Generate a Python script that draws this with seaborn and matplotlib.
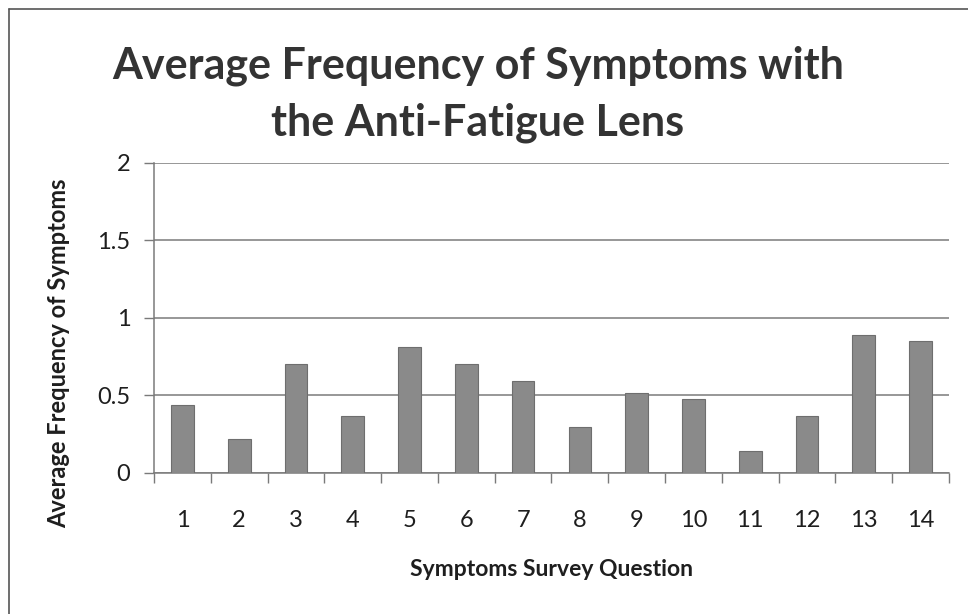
import matplotlib
matplotlib.use("Agg")
import matplotlib.pyplot as plt
from matplotlib.lines import Line2D
import numpy as np
import pandas as pd
import seaborn as sns

# Values
questions = [str(i) for i in range(1, 15)]
avg_frequency = [0.44, 0.215, 0.70, 0.366, 0.813, 0.70, 0.589,
                 0.292, 0.516, 0.477, 0.142, 0.366, 0.886, 0.849]
y_ticks = [0, 0.5, 1, 1.5, 2]
y_tick_labels = ["0", "0.5", "1", "1.5", "2"]

df = pd.DataFrame({"question": questions, "freq": avg_frequency})

sns.set_theme(style="white")
plt.rcParams["font.family"] = ["Lato", "DejaVu Sans"]

fig = plt.figure(figsize=(9.68, 6.14), dpi=100)
ax = fig.add_axes([154 / 968, 1 - 472.7 / 614, (949 - 154) / 968, (472.7 - 162.7) / 614])

sns.barplot(data=df, x="question", y="freq", color="#8a8a8a", width=0.4,
            edgecolor="#6e6e6e", linewidth=0.8, saturation=1, ax=ax, zorder=3)

ax.set_ylim(0, 2)
ax.set_xlim(-0.5, len(questions) - 0.5)
ax.set_yticks(y_ticks)
ax.set_yticklabels(y_tick_labels)
ax.yaxis.grid(True, color="#7a7a7a", linewidth=1.1, zorder=0)

# ticks between categories on the x axis
ax.set_xticks(np.arange(len(questions)))
ax.set_xticks(np.arange(-0.5, len(questions)), minor=True)
ax.tick_params(axis="x", which="major", length=0, pad=27, labelsize=17, labelcolor="#1e1e1e")
ax.tick_params(axis="x", which="minor", length=7, width=1, color="#7a7a7a", direction="out")
ax.tick_params(axis="y", length=7, width=1, color="#7a7a7a", direction="out", pad=10,
               labelsize=17, labelcolor="#1e1e1e")
ax.tick_params(bottom=True, left=True, which="both")

for side in ["top", "right"]:
    ax.spines[side].set_visible(False)
for side in ["left", "bottom"]:
    ax.spines[side].set_color("#7a7a7a")
    ax.spines[side].set_linewidth(1.1)

ax.set_xlabel("Symptoms Survey Question", fontsize=16.5, fontweight="bold",
              color="#1e1e1e", labelpad=20)
ax.set_ylabel("Average Frequency of Symptoms", fontsize=17, fontweight="bold",
              color="#1e1e1e")
ax.yaxis.set_label_coords((70 - 154) / 795, (472.7 - 353) / 310)

fig.text(478 / 968, 1 - 94 / 614,
         "Average Frequency of Symptoms with\nthe Anti-Fatigue Lens",
         ha="center", va="center", fontsize=31, fontweight="bold",
         color="#333333", linespacing=1.5)

# chart border (left and top edges visible in the reference)
fig.add_artist(Line2D([9 / 968, 9 / 968], [0, 1 - 9 / 614], transform=fig.transFigure,
                      color="#555555", linewidth=1.2))
fig.add_artist(Line2D([9 / 968, 1], [1 - 9 / 614, 1 - 9 / 614], transform=fig.transFigure,
                      color="#555555", linewidth=1.2))

fig.savefig("out.png", dpi=100)
